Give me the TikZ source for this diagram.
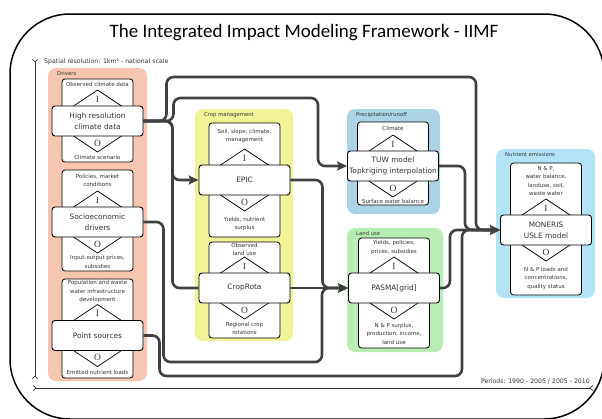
\documentclass[tikz,border=0pt]{standalone}
\usepackage{fontspec}
\setmainfont{DejaVu Sans}
\newfontfamily\titlefont{Carlito}
\newfontfamily\iofont{Liberation Serif}
\usetikzlibrary{arrows.meta}

\definecolor{driverscol}{HTML}{F6C6B0}
\definecolor{cropcol}{HTML}{F0F396}
\definecolor{runoffcol}{HTML}{AAD4E4}
\definecolor{landcol}{HTML}{B8EEB4}
\definecolor{emissioncol}{HTML}{B2E4F6}
\definecolor{linkcol}{HTML}{404040}
\definecolor{textcol}{HTML}{333333}

\tikzstyle{frame}=[draw, line width=1.5pt, rounded corners=60pt]
\tikzstyle{title}=[inner sep=0pt, font=\titlefont\fontsize{19}{22}\selectfont]
\tikzstyle{note}=[inner sep=0pt, text=textcol, font=\fontsize{6.2}{7}\selectfont]
\tikzstyle{timeaxis}=[draw, line width=0.8pt, textcol, {Straight Barb[reversed, length=2.5pt, width=5pt]}-{Straight Barb[reversed, length=2.5pt, width=5pt]}]
\tikzstyle{groupbg}=[rounded corners=8pt]
\tikzstyle{grouplabel}=[anchor=west, inner sep=0pt, text=textcol, font=\fontsize{5.3}{6}\selectfont]
\tikzstyle{panel}=[draw, fill=white, rounded corners=3pt, line width=0.8pt]
\tikzstyle{wedge}=[draw, line width=0.7pt]
\tikzstyle{datum}=[inner sep=0pt, align=center, text=textcol, font=\fontsize{5.5}{8.5}\selectfont]
\tikzstyle{io}=[inner sep=0pt, text=textcol, font=\iofont\fontsize{9.5}{10}\selectfont]
\tikzstyle{model}=[draw, fill=white, rounded corners=3pt, line width=0.9pt, minimum width=91pt, minimum height=30pt, inner sep=1pt, align=center, text=textcol, font=\fontsize{7.4}{11}\selectfont]
\tikzstyle{link}=[draw, line width=2.6pt, linkcol, rounded corners=7pt]
\tikzstyle{feed}=[link, -{Stealth[length=10pt, width=9pt, inset=2pt]}]

\begin{document}
\begin{tikzpicture}[x=1pt, y=-1pt]
	\clip (0,0) rectangle (602,418);
	\draw[frame] (10,14) rectangle (604,419);
	\node[title] (Title) at (304,33) {The Integrated Impact Modeling Framework - IIMF};
	\draw[timeaxis] (35,59) -- (35,379);
	\draw[timeaxis] (33,388) -- (593,388);
	\node[note, anchor=west] (Spatial) at (44,62) {Spatial resolution: 1km² - national scale};
	\node[note, anchor=east] (Periods) at (590,381) {Periods: 1990 - 2005 / 2005 - 2010};
	\foreach \name/\l/\t/\r/\b/\col/\label in {Drivers/48/68/147/381/driverscol/Drivers,
				CropMgmt/195/109/293/341/cropcol/{Crop management}, Runoff/347/109/440/214/runoffcol/{Precipitation/runoff},
				LandUse/347/228/443/352/landcol/{Land use}, Emissions/496/149/595/298/emissioncol/{Nutrient emissions}}
	{
		\fill[groupbg, \col] (\l,\t) rectangle (\r,\b);
		\node[grouplabel] (\name Label) at (\l+9,\t+6) {\label};
	}
	\foreach \name/\x/\y/\top/\bot/\text/\intext/\outtext in {
				HiRes/97.5/121/79/162/{High resolution\\climate data}/{Observed climate data}/{Climate scenario},
				Socio/97.5/222/170/271/{Socioeconomic\\drivers}/{Policies, market\\conditions}/{Input-output prices,\\subsidies},
				PointSrc/97.5/335.5/279/378/{Point sources}/{Population and waste\\water infrastructure\\development}/{Emitted nutrient loads},
				EPIC/244.5/180/123/237/{EPIC}/{Soil, slope, climate,\\management}/{Yields, nutrient\\surplus},
				CropRota/244.5/288/242/338/{CropRota}/{Observed\\land use}/{Regional crop\\rotations},
				TUW/393/166/122/205/{TUW model\\Topkriging interpolation}/{Climate}/{Surface water balance},
				PASMA/394/288/238/348/{PASMA[grid]}/{Yields, policies,\\prices, subsidies}/{N \& P surplus,\\production, income,\\land use},
				MONERIS/546/230/163/295/{MONERIS\\USLE model}/{N \& P,\\water balance,\\landuse, soil,\\waste water}/{N \& P loads and\\concentrations,\\quality status}}
	{
		\draw[panel] (\x-35.5,\top) rectangle (\x+35.5,\bot);
		\node[datum] (\name In) at (\x,{(\top+\y-31)/2}) {\intext};
		\node[datum] (\name Out) at (\x,{(\bot+\y+31)/2}) {\outtext};
		\draw[wedge] (\x-27,\y-13) -- (\x,\y-31) -- (\x+27,\y-13);
		\draw[wedge] (\x-27,\y+13) -- (\x,\y+31) -- (\x+27,\y+13);
		\node[io] (\name I) at (\x,\y-22) {I};
		\node[io] (\name O) at (\x,\y+22) {O};
		\node[model] (\name) at (\x,\y) {\text};
	}
	\coordinate (TopRight) at (476,77);
	\coordinate (MidRight) at (318,98);
	\coordinate (LowRight) at (322,362);
	\coordinate (BaseRight) at (462,376);
	\path[feed] (HiRes.east) -- ++(23,0) |- (TopRight) |- (MONERIS.west);
	\path[feed] (HiRes.east) -- ++(30,0) |- (MidRight) |- (TUW.west);
	\path[feed] (HiRes.east) -- ++(29,0) |- (EPIC.west);
	\path[link] (HiRes.east) -- ++(29,0) |- (CropRota.west);
	\path[feed] (Socio.east) -- ++(20,0) |- (LowRight) |- (PASMA.west);
	\path[feed] (EPIC.east) -- ++(32,0) |- (PASMA.west);
	\path[feed] (CropRota.east) -- (PASMA.west);
	\path[feed] (PointSrc.east) -- ++(16,0) |- (BaseRight) |- (MONERIS.west);
	\path[feed] (TUW.east) -- ++(26,0) |- (MONERIS.west);
	\path[feed] (PASMA.east) -- ++(10,0) |- (MONERIS.west);
\end{tikzpicture}
\end{document}
